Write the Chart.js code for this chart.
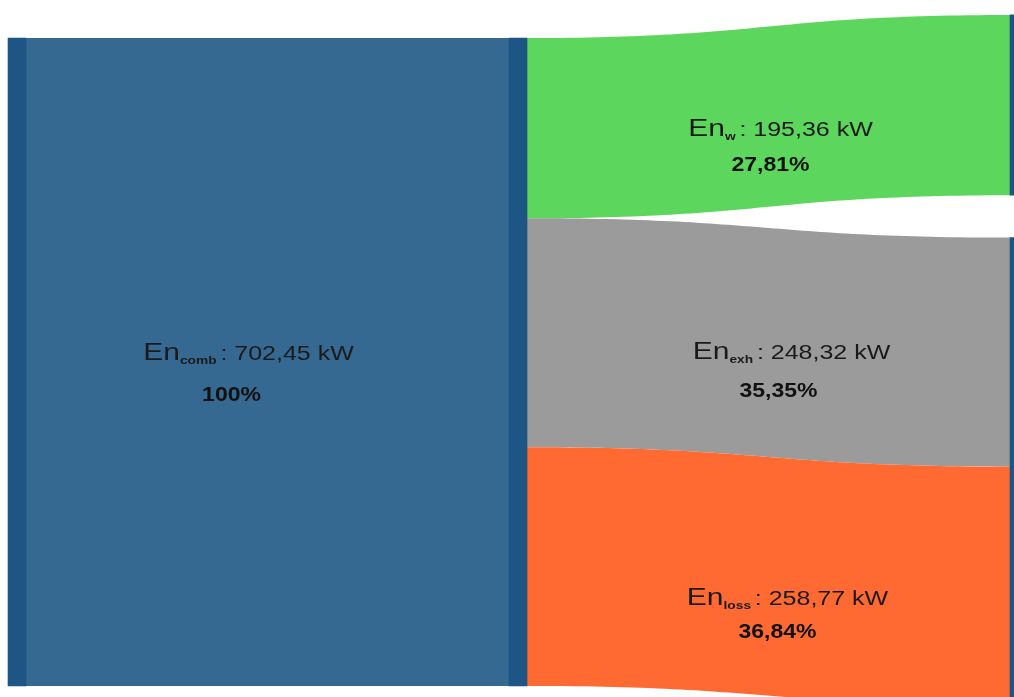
<!DOCTYPE html>
<html>
<head>
<meta charset="utf-8">
<script src="https://cdn.jsdelivr.net/npm/chart.js@4"></script>
<style>
  html, body { margin: 0; padding: 0; background: #fff; }
</style>
</head>
<body>
<canvas id="sankey" width="1014" height="697"></canvas>
<script>
'use strict';

// ---- data ----
const categories = ['comb', 'w', 'exh', 'loss'];
const energyKW = [702.45, 195.36, 248.32, 258.77];
const shares = [100, 27.81, 35.35, 36.84];

// ---- look ----
const flowColors = ['#356992', '#5cd65c', '#9b9b9b', '#fe6a31'];
const nodeColor = '#1d5685';
// space before each output node in the right column (kW units)
const rightGaps = [-25, 46, 0];
// label nudges in px: [dx, dy, pctDx, pctDy]
const labelNudge = [[-19, -10, -36, 33], [12, 11, 2, 49], [23, 9, 10, 49], [19, 21, 9, 56]];

const total = energyKW[0];

// nodes: column index + span in kW
const nodeBars = [{x: 0, y: [0, total]}, {x: 1, y: [0, total]}];
let acc = 0;
for (let i = 1; i < categories.length; i++) {
  acc += rightGaps[i - 1];
  nodeBars.push({x: 2, y: [acc, acc + energyKW[i]]});
  acc += energyKW[i];
}

// links: source node span -> target node span
const links = [{from: 0, to: 1, y0: [0, total], y1: [0, total], color: flowColors[0]}];
let out = 0;
for (let i = 1; i < categories.length; i++) {
  links.push({
    from: 1, to: i + 1,
    y0: [out, out + energyKW[i]],
    y1: nodeBars[i + 1].y,
    color: flowColors[i]
  });
  out += energyKW[i];
}

function fmt(v, d) {
  return v.toFixed(d).replace('.', ',');
}

function drawLabel(ctx, cx, cy, sub, kw) {
  const fBig = '24px "Liberation Sans"';
  const fSub = 'bold 11px "Liberation Sans"';
  const fVal = '20px "Liberation Sans"';
  const rest = ': ' + fmt(kw, 2) + ' kW';
  ctx.font = fBig; const wEn = ctx.measureText('En').width;
  ctx.font = fSub; const wSub = ctx.measureText(sub).width;
  ctx.font = fVal; const wRest = ctx.measureText(rest).width;
  const w = wEn + wSub + 3 + wRest;
  ctx.save();
  ctx.translate(cx, cy);
  ctx.scale(1.25, 1);
  ctx.fillStyle = '#1a1a1a';
  ctx.textBaseline = 'alphabetic';
  ctx.textAlign = 'left';
  let x = -w / 2;
  ctx.font = fBig; ctx.fillText('En', x, 8); x += wEn;
  ctx.font = fSub; ctx.fillText(sub, x, 12); x += wSub + 3;
  ctx.font = fVal; ctx.fillText(rest, x, 8);
  ctx.restore();
}

function drawPct(ctx, cx, cy, pct) {
  ctx.save();
  ctx.translate(cx, cy);
  ctx.scale(1.15, 1);
  ctx.font = 'bold 20px "Liberation Sans"';
  ctx.fillStyle = '#111';
  ctx.textAlign = 'center';
  ctx.textBaseline = 'middle';
  ctx.fillText(pct === 100 ? '100%' : fmt(pct, 2) + '%', 0, 0);
  ctx.restore();
}

const flowPlugin = {
  id: 'flows',
  beforeDatasetsDraw(chart) {
    const {ctx, scales: {x, y}} = chart;
    const half = chart.getDatasetMeta(0).data[0].width / 2;
    links.forEach(l => {
      const x0 = x.getPixelForValue(nodeBars[l.from].x) + half;
      const x1 = x.getPixelForValue(nodeBars[l.to].x) - half;
      const xm = (x0 + x1) / 2;
      const t0 = y.getPixelForValue(l.y0[0]), b0 = y.getPixelForValue(l.y0[1]);
      const t1 = y.getPixelForValue(l.y1[0]), b1 = y.getPixelForValue(l.y1[1]);
      ctx.save();
      ctx.beginPath();
      ctx.moveTo(x0 - 1, t0);
      ctx.lineTo(x0, t0);
      ctx.bezierCurveTo(xm, t0, xm, t1, x1 + 1, t1);
      ctx.lineTo(x1 + 1, b1);
      ctx.bezierCurveTo(xm, b1, xm, b0, x0, b0);
      ctx.lineTo(x0 - 1, b0);
      ctx.closePath();
      ctx.fillStyle = l.color;
      ctx.fill();
      ctx.restore();
    });
  },
  afterDatasetsDraw(chart) {
    const {ctx, scales: {x, y}} = chart;
    const half = chart.getDatasetMeta(0).data[0].width / 2;
    links.forEach((l, i) => {
      const x0 = x.getPixelForValue(nodeBars[l.from].x) + half;
      const x1 = x.getPixelForValue(nodeBars[l.to].x) - half;
      const xm = (x0 + x1) / 2;
      const cy = (y.getPixelForValue(l.y0[0]) + y.getPixelForValue(l.y0[1]) +
                  y.getPixelForValue(l.y1[0]) + y.getPixelForValue(l.y1[1])) / 4;
      const n = labelNudge[i];
      drawLabel(ctx, xm + n[0], cy + n[1], categories[i], energyKW[i]);
      drawPct(ctx, xm + n[2], cy + n[3], shares[i]);
    });
  }
};

new Chart(document.getElementById('sankey').getContext('2d'), {
  type: 'bar',
  data: {
    datasets: [{
      data: nodeBars,
      backgroundColor: nodeColor,
      borderWidth: 0,
      barThickness: 18
    }]
  },
  options: {
    responsive: false,
    animation: false,
    layout: { padding: 0 },
    scales: {
      x: { type: 'linear', min: -0.034, max: 1.99, offset: false, display: false },
      y: { min: -41.2, max: 714.4, reverse: true, display: false }
    },
    plugins: {
      legend: { display: false },
      tooltip: { enabled: false }
    }
  },
  plugins: [flowPlugin]
});
</script>
</body>
</html>
